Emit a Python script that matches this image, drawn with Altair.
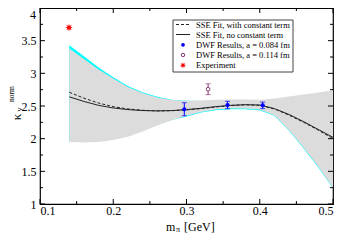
import math
import altair as alt
import pandas as pd

# ---------------- data ----------------
fit_x = [0.14, 0.16, 0.18, 0.20, 0.22, 0.24, 0.26, 0.28, 0.30, 0.32,
         0.34, 0.36, 0.38, 0.40, 0.42, 0.44, 0.46, 0.48, 0.50]
fit_no_const = [2.64, 2.57, 2.51, 2.47, 2.445, 2.43, 2.425, 2.43, 2.445, 2.465,
                2.49, 2.51, 2.52, 2.515, 2.46, 2.37, 2.26, 2.14, 2.02]
fit_with_const = [2.71, 2.62, 2.545, 2.49, 2.455, 2.435, 2.425, 2.428, 2.44, 2.46,
                  2.485, 2.507, 2.518, 2.51, 2.455, 2.36, 2.25, 2.13, 2.00]
band_upper = [3.38, 3.22, 3.06, 2.92, 2.79, 2.70, 2.63, 2.59, 2.58, 2.585,
              2.595, 2.60, 2.60, 2.595, 2.615, 2.645, 2.675, 2.705, 2.74]
band_lower = [1.95, 1.94, 1.95, 1.98, 2.03, 2.11, 2.20, 2.28, 2.35, 2.41,
              2.445, 2.46, 2.46, 2.445, 2.36, 2.13, 1.86, 1.57, 1.25]
cyan_upper = [3.43, 3.26, 3.09, 2.94, 2.805, 2.71, 2.64, 2.595, 2.582, 2.575,
              2.585, 2.59, 2.59, 2.585, 2.605, 2.635, 2.665, 2.695, 2.73]
cyan_lower = [1.96, 1.95, 1.96, 1.99, 2.04, 2.12, 2.21, 2.285, 2.34, 2.40,
              2.435, 2.45, 2.45, 2.435, 2.35, 2.12, 1.85, 1.56, 1.24]

dwf084_x = [0.297, 0.356, 0.404]
dwf084_y = [2.45, 2.515, 2.51]
dwf084_err = [0.10, 0.057, 0.05]

dwf114_x = [0.3295]
dwf114_y = [2.757]
dwf114_err = [0.083]

exp_x = [0.1396]
exp_y = [3.70]

x_tick_labels = [0.1, 0.2, 0.3, 0.4, 0.5]
x_minor = [0.15, 0.25, 0.35, 0.45]
y_tick_labels = [1, 1.5, 2, 2.5, 3, 3.5, 4]
y_minor = [1.25, 1.75, 2.25, 2.75, 3.25, 3.75]

legend_labels = ["SSE Fit, with constant term", "SSE Fit, no constant term",
                 "DWF Results, a = 0.084 fm", "DWF Results, a = 0.114 fm",
                 "Experiment"]

# ---------------- styling ----------------
W, H = 293, 196
FONT = "Liberation Serif"
GRAY = "#dcdcdc"
CYAN = "#00ffff"
BLUE = "#0000ff"
PURPLE = "#8a3a72"
RED = "#ff0000"

pts = []
for k in range(16):
    r = 1.0 if k % 2 == 0 else 0.45
    a = math.pi * k / 8
    pts.append(f"{r*math.sin(a):.3f},{-r*math.cos(a):.3f}")
STAR = "M" + "L".join(pts) + "Z"

xs = alt.Scale(domain=[0.1, 0.5], nice=False, zero=False)
ys = alt.Scale(domain=[1, 4], nice=False, zero=False)
xaxis = alt.Axis(values=x_tick_labels, format=".1f", ticks=False, domain=False,
                 grid=False, labelFont=FONT, labelFontSize=12, labelPadding=1,
                 labelColor="black", title=None)
yaxis = alt.Axis(values=y_tick_labels[:-1], format="~g", ticks=False, domain=False,
                 grid=False, labelFont=FONT, labelFontSize=12, labelPadding=4,
                 labelColor="black", title=None)


def X(f):
    return alt.X(f, type="quantitative", scale=xs, axis=xaxis)


def Y(f):
    return alt.Y(f, type="quantitative", scale=ys, axis=yaxis)


def Y2(f):
    return alt.Y2(f)


curves = pd.DataFrame({"x": fit_x, "nc": fit_no_const, "wc": fit_with_const,
                       "bu": band_upper, "bl": band_lower,
                       "cu": cyan_upper, "cl": cyan_lower})

layers = []
layers.append(alt.Chart(curves).mark_area(color=CYAN, opacity=1).encode(
    x=X("x"), y=Y("cl"), y2=Y2("cu")))
layers.append(alt.Chart(curves).mark_area(color=GRAY, opacity=1).encode(
    x=X("x"), y=Y("bl"), y2=Y2("bu")))
layers.append(alt.Chart(curves).mark_line(color="#222222", strokeWidth=1,
                                          strokeDash=[3, 2]).encode(x=X("x"), y=Y("wc")))
layers.append(alt.Chart(curves).mark_line(color="#222222", strokeWidth=1).encode(
    x=X("x"), y=Y("nc")))

# tick marks (inward, all four sides)
for vals, ln in [(x_tick_labels, 5), (x_minor, 3)]:
    d = pd.DataFrame({"v": vals})
    layers.append(alt.Chart(d).mark_rule(color="black", strokeWidth=1).encode(
        x=X("v"), y=alt.value(H), y2=alt.value(H - ln)))
    layers.append(alt.Chart(d).mark_rule(color="black", strokeWidth=1).encode(
        x=X("v"), y=alt.value(0), y2=alt.value(ln)))
for vals, ln in [(y_tick_labels, 5), (y_minor, 3)]:
    d = pd.DataFrame({"v": vals})
    layers.append(alt.Chart(d).mark_rule(color="black", strokeWidth=1).encode(
        y=Y("v"), x=alt.value(0), x2=alt.value(ln)))
    layers.append(alt.Chart(d).mark_rule(color="black", strokeWidth=1).encode(
        y=Y("v"), x=alt.value(W), x2=alt.value(W - ln)))

# top y label (kept inside the page)
layers.append(alt.Chart(pd.DataFrame({"v": [y_tick_labels[-1]], "t": ["4"]})).mark_text(
    font=FONT, fontSize=12, align="right", baseline="middle", dy=6.5, color="black").encode(
    y=Y("v"), x=alt.value(-4), text="t:N"))

# data points
d084 = pd.DataFrame({"x": dwf084_x, "y": dwf084_y, "e": dwf084_err})
d084["lo"] = d084["y"] - d084["e"]
d084["hi"] = d084["y"] + d084["e"]
d114 = pd.DataFrame({"x": dwf114_x, "y": dwf114_y, "e": dwf114_err})
d114["lo"] = d114["y"] - d114["e"]
d114["hi"] = d114["y"] + d114["e"]
dexp = pd.DataFrame({"x": exp_x, "y": exp_y})

layers.append(alt.Chart(d084).mark_errorbar(color=BLUE, thickness=1,
                                            ticks={"size": 5}).encode(
    x=X("x"), y=Y("lo"), y2=Y2("hi")))
layers.append(alt.Chart(d084).mark_point(shape="circle", filled=True, color=BLUE,
                                         size=18, opacity=1).encode(x=X("x"), y=Y("y")))
layers.append(alt.Chart(d114).mark_errorbar(color=PURPLE, thickness=1,
                                            ticks={"size": 5}).encode(
    x=X("x"), y=Y("lo"), y2=Y2("hi")))
layers.append(alt.Chart(d114).mark_point(shape="circle", filled=True, fill="white",
                                         stroke=PURPLE, strokeWidth=1, size=14,
                                         opacity=1).encode(x=X("x"), y=Y("y")))
layers.append(alt.Chart(dexp).mark_point(shape=STAR, filled=True, color=RED,
                                         size=60, opacity=1).encode(x=X("x"), y=Y("y")))

# legend (drawn by hand)
one = pd.DataFrame({"a": [0]})
layers.append(alt.Chart(one).mark_rect(fill="white", stroke="#444444", strokeWidth=1).encode(
    x=alt.value(133), x2=alt.value(253), y=alt.value(12), y2=alt.value(64)))
rows = [16.5, 26.5, 36.8, 47, 57.3]
layers.append(alt.Chart(one).mark_rule(color="#222222", strokeWidth=1, strokeDash=[3, 2]).encode(
    x=alt.value(136), x2=alt.value(150), y=alt.value(rows[0])))
layers.append(alt.Chart(one).mark_rule(color="#222222", strokeWidth=1).encode(
    x=alt.value(136), x2=alt.value(150), y=alt.value(rows[1])))
layers.append(alt.Chart(one).mark_point(shape="circle", filled=True, color=BLUE, size=14,
                                        opacity=1).encode(x=alt.value(143), y=alt.value(rows[2])))
layers.append(alt.Chart(one).mark_point(shape="circle", filled=True, fill="white", stroke=PURPLE,
                                        strokeWidth=1, size=12, opacity=1).encode(
    x=alt.value(143), y=alt.value(rows[3])))
layers.append(alt.Chart(one).mark_point(shape=STAR, filled=True, color=RED, size=40,
                                        opacity=1).encode(x=alt.value(143), y=alt.value(rows[4])))
for lab, ry in zip(legend_labels, rows):
    layers.append(alt.Chart(pd.DataFrame({"t": [lab]})).mark_text(
        font=FONT, fontSize=8.5, align="left", baseline="middle", color="black").encode(
        x=alt.value(156), y=alt.value(ry), text="t:N"))


# axis titles
def txt(s, x, y, size, angle=0, align="left", baseline="alphabetic"):
    return alt.Chart(pd.DataFrame({"t": [s]})).mark_text(
        font=FONT, fontSize=size, align=align, baseline=baseline, angle=angle,
        color="black").encode(x=alt.value(x), y=alt.value(y), text="t:N")


layers.append(txt("m", 126, 222.5, 12))
layers.append(txt("π", 136, 224, 8))
layers.append(txt("[GeV]", 144, 222.5, 12))
layers.append(txt("κ", -23.5, 109, 13, angle=270, align="center", baseline="middle"))
layers.append(txt("v", -20.5, 101.5, 8, angle=270, align="center", baseline="middle"))
layers.append(txt("norm", -28, 86, 7.5, angle=270, align="center", baseline="middle"))

chart = alt.layer(*layers).properties(
    width=W, height=H, autosize="none",
    padding={"left": 32, "top": 0, "right": 8, "bottom": 30},
).configure_view(stroke="black", strokeWidth=1.2)

chart.save("out.html", embed_options={"renderer": "svg", "actions": False})
